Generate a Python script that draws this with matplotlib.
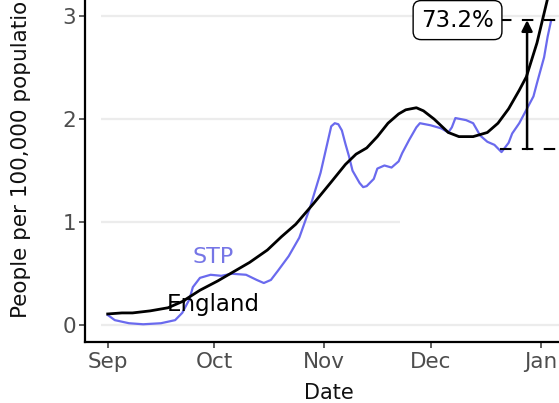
import matplotlib
matplotlib.use("Agg")
import matplotlib.pyplot as plt
import matplotlib.dates as mdates
import pandas as pd

# ---- data (days since 2020-09-01, values per 100,000) ----
start = pd.Timestamp("2020-09-01")

england_days = [0, 4, 7, 12, 17, 21, 26, 31, 35, 40, 45, 49, 53, 58, 63, 67, 70, 73,
                76, 79, 82, 84, 87, 89, 92, 96, 99, 103, 107, 110, 113, 116, 118,
                121, 124, 125]
england_vals = [0.11, 0.12, 0.12, 0.14, 0.17, 0.23, 0.34, 0.43, 0.51, 0.61, 0.73, 0.86,
                0.98, 1.18, 1.39, 1.56, 1.66, 1.72, 1.83, 1.96, 2.05, 2.09, 2.11, 2.08,
                2.00, 1.87, 1.83, 1.83, 1.87, 1.96, 2.10, 2.28, 2.41, 2.74, 3.17, 3.32]

stp_days = [0, 2, 6, 10, 15, 19, 21, 23, 24, 26, 29, 32, 35, 39, 42, 44, 46, 48, 51, 54,
            57, 60, 62, 63, 64, 65, 66, 67, 68, 69, 71, 72, 73, 75, 76, 78, 80, 82, 83,
            85, 87, 88, 91, 94, 96, 97, 98, 101, 103, 105, 107, 109, 111, 113, 114, 116,
            118, 120, 121, 123, 124, 125]
stp_vals = [0.10, 0.05, 0.02, 0.01, 0.02, 0.05, 0.12, 0.25, 0.37, 0.46, 0.49, 0.48, 0.50,
            0.49, 0.44, 0.41, 0.44, 0.53, 0.67, 0.85, 1.14, 1.48, 1.78, 1.93, 1.96, 1.95,
            1.89, 1.76, 1.64, 1.50, 1.38, 1.34, 1.35, 1.42, 1.52, 1.55, 1.53, 1.59, 1.67,
            1.80, 1.92, 1.96, 1.94, 1.91, 1.87, 1.92, 2.01, 1.99, 1.96, 1.84, 1.78, 1.75,
            1.68, 1.77, 1.86, 1.96, 2.09, 2.22, 2.35, 2.60, 2.80, 2.96]

change_label = "73.2%"
ref_low = 1.71
ref_high = 2.96
arrow_day = 118.2
box_day = 98.6

yticks = [0, 1, 2, 3]
month_ticks = ["2020-09-01", "2020-10-01", "2020-11-01", "2020-12-01", "2021-01-01"]

def to_dates(days):
    return [start + pd.Timedelta(days=float(d)) for d in days]

eng_dates = to_dates(england_days)
stp_dates = to_dates(stp_days)

# ---- figure ----
fig = plt.figure(figsize=(5.59, 4.03), dpi=100)
W, H = 559, 403
ax = fig.add_axes([85 / W, 61 / H, 474 / W, 342 / H])

xl = mdates.date2num(start + pd.Timedelta(days=-6.4))
xr = mdates.date2num(start + pd.Timedelta(days=127.2))
ax.set_xlim(xl, xr)
ax.set_ylim(-0.162, 3.155)

# faint grid
grid_col = "#ececec"
gx0 = mdates.date2num(start + pd.Timedelta(days=-2))
gx_end_1 = mdates.date2num(start + pd.Timedelta(days=82.5))
for yv in yticks:
    xe = gx_end_1 if yv == 1 else xr
    ax.plot([gx0, xe], [yv, yv], color=grid_col, lw=1.6, zorder=0, solid_capstyle="butt")

ax.plot(stp_dates, stp_vals, color="#6a6aee", lw=1.6, zorder=2)
ax.plot(eng_dates, england_vals, color="black", lw=2.0, zorder=3)

# labels
ax.text(mdates.date2num(start + pd.Timedelta(days=29.7)), 0.60, "STP", color="#7676e6",
        fontsize=16, ha="center", va="baseline", zorder=4)
ax.text(mdates.date2num(start + pd.Timedelta(days=29.7)), 0.135, "England", color="black",
        fontsize=16.5, ha="center", va="baseline", zorder=4)

# annotation
d_box_right = mdates.date2num(start + pd.Timedelta(days=110.6))
d_end = mdates.date2num(start + pd.Timedelta(days=127.5))
for yv in (ref_low, ref_high):
    ax.plot([d_box_right, d_end], [yv, yv], color="black", lw=1.5,
            linestyle=(0, (5.5, 5)), zorder=4)
ax_x = mdates.date2num(start + pd.Timedelta(days=arrow_day))
ax.annotate("", xy=(ax_x, ref_high), xytext=(ax_x, ref_low),
            arrowprops=dict(arrowstyle="-|>", lw=1.8, color="black",
                            mutation_scale=16, shrinkA=0, shrinkB=0), zorder=5)
ax.text(mdates.date2num(start + pd.Timedelta(days=box_day)), ref_high, change_label,
        fontsize=16.5, ha="center", va="center", zorder=6,
        bbox=dict(boxstyle="round,pad=0.35,rounding_size=0.35", fc="white", ec="black", lw=1.0))

# axes styling
for s in ("top", "right"):
    ax.spines[s].set_visible(False)
for s in ("left", "bottom"):
    ax.spines[s].set_linewidth(1.6)
    ax.spines[s].set_color("black")

ax.set_yticks(yticks)
ax.set_xticks([mdates.date2num(pd.Timestamp(m)) for m in month_ticks])
ax.xaxis.set_major_formatter(mdates.DateFormatter("%b"))
ax.tick_params(axis="both", labelsize=15.5, labelcolor="#4d4d4d", color="#333333",
               length=4.5, width=1.1)
ax.tick_params(axis="x", pad=2.5)
ax.tick_params(axis="y", pad=2.0)

fig.text(329 / W, (H - 399) / H, "Date", ha="center", va="baseline", fontsize=15, color="#111111")
fig.text(21 / W, (H - 318) / H, "People per 100,000 population", ha="center", va="bottom",
         rotation=90, fontsize=15.5, color="#111111")

fig.savefig("out.png", dpi=100)
